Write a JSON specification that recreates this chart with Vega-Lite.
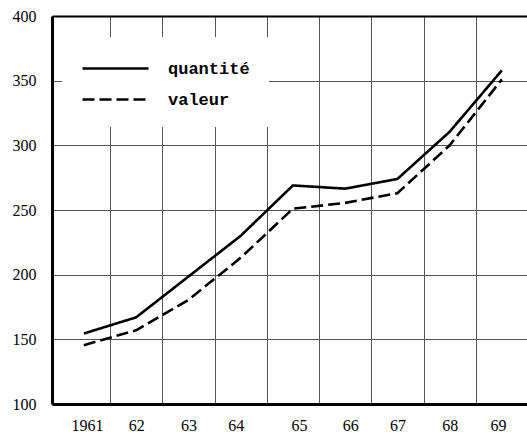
{
  "$schema": "https://vega.github.io/schema/vega-lite/v6.json",
  "width": 475,
  "height": 388,
  "autosize": {"type": "none"},
  "padding": {"left": 52, "top": 16, "right": 0, "bottom": 33},
  "background": "white",
  "config": {"view": {"stroke": null}},
  "data": {
    "values": [
      {"annee": 1961, "serie": "quantité", "indice": 154.5},
      {"annee": 1962, "serie": "quantité", "indice": 167},
      {"annee": 1963, "serie": "quantité", "indice": 198.5},
      {"annee": 1964, "serie": "quantité", "indice": 230},
      {"annee": 1965, "serie": "quantité", "indice": 269},
      {"annee": 1966, "serie": "quantité", "indice": 266.5},
      {"annee": 1967, "serie": "quantité", "indice": 274},
      {"annee": 1968, "serie": "quantité", "indice": 310.5},
      {"annee": 1969, "serie": "quantité", "indice": 358},
      {"annee": 1961, "serie": "valeur", "indice": 145.5},
      {"annee": 1962, "serie": "valeur", "indice": 157},
      {"annee": 1963, "serie": "valeur", "indice": 180.5},
      {"annee": 1964, "serie": "valeur", "indice": 213},
      {"annee": 1965, "serie": "valeur", "indice": 251},
      {"annee": 1966, "serie": "valeur", "indice": 255.5},
      {"annee": 1967, "serie": "valeur", "indice": 263},
      {"annee": 1968, "serie": "valeur", "indice": 300},
      {"annee": 1969, "serie": "valeur", "indice": 351}
    ]
  },
  "resolve": {"axis": {"x": "independent"}},
  "layer": [
    {
      "mark": {"type": "point", "opacity": 0},
      "encoding": {
        "x": {
          "field": "annee",
          "type": "quantitative",
          "scale": {"domain": [1960.39, 1969.48], "nice": false, "zero": false},
          "axis": {
            "orient": "top",
            "values": [1961.5, 1962.5, 1963.5, 1964.5, 1965.5, 1966.5, 1967.5, 1968.5],
            "labels": false,
            "ticks": false,
            "title": null,
            "grid": true,
            "gridColor": "#555555",
            "gridWidth": 1,
            "gridOpacity": 1,
            "domainColor": "black",
            "domainWidth": 2,
            "minExtent": 0,
            "maxExtent": 0
          }
        },
        "y": {"field": "indice", "type": "quantitative"}
      }
    },
    {
      "mark": {"type": "line", "color": "black", "strokeWidth": 2.6},
      "encoding": {
        "x": {
          "field": "annee",
          "type": "quantitative",
          "axis": {
            "values": [1961, 1962, 1963, 1964, 1965, 1966, 1967, 1968, 1969],
            "labelExpr": "datum.value == 1961 ? '1961' : substring(toString(datum.value), 2)",
            "grid": false,
            "ticks": false,
            "title": null,
            "domainColor": "black",
            "domainWidth": 3,
            "labelFont": "Liberation Serif",
            "labelFontSize": 16,
            "labelColor": "black",
            "labelPadding": 13,
            "labelFlush": false,
            "labelOffset": {
              "condition": [
                {"test": "datum.value == 1964", "value": -5},
                {"test": "datum.value == 1965", "value": 6},
                {"test": "datum.value == 1966", "value": 5},
                {"test": "datum.value == 1969", "value": -4},
                {"test": "datum.value == 1961", "value": 3}
              ],
              "value": 0
            }
          }
        },
        "y": {
          "field": "indice",
          "type": "quantitative",
          "scale": {"domain": [100, 400], "nice": false, "zero": false},
          "axis": {
            "values": [100, 150, 200, 250, 300, 350, 400],
            "grid": true,
            "gridColor": "#555555",
            "gridWidth": 1,
            "gridOpacity": 1,
            "ticks": false,
            "title": null,
            "domainColor": "black",
            "domainWidth": 3,
            "labelFont": "Liberation Serif",
            "labelFontSize": 16,
            "labelColor": "black",
            "labelPadding": 16,
            "labelFlush": false
          }
        },
        "strokeDash": {
          "field": "serie",
          "type": "nominal",
          "scale": {"domain": ["quantité", "valeur"], "range": [[1, 0], [12, 5]]},
          "legend": {
            "title": null,
            "orient": "none",
            "legendX": 10,
            "legendY": 21,
            "fillColor": "white",
            "padding": 19,
            "symbolType": "M-1,0H5",
            "symbolSize": 484,
            "symbolStrokeWidth": 2.6,
            "symbolStrokeColor": "black",
            "labelFont": "Liberation Mono",
            "labelFontWeight": "bold",
            "labelFontSize": 17,
            "labelColor": "black",
            "labelOffset": 62,
            "labelExpr": "datum.label + '\u00a0\u00a0\u00a0'",
            "rowPadding": 10
          }
        }
      }
    }
  ]
}
